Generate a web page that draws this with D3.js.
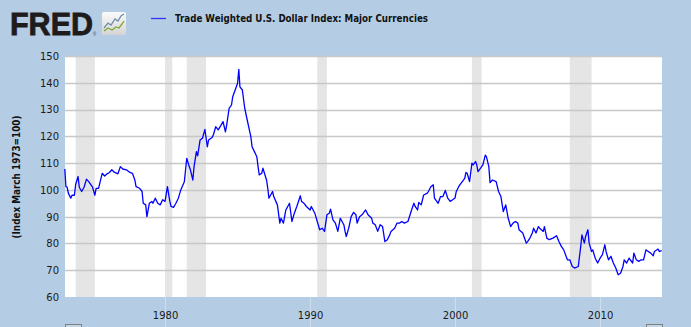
<!DOCTYPE html>
<html><head><meta charset="utf-8">
<script src="https://cdn.jsdelivr.net/npm/d3@7"></script>
<style>html,body{margin:0;padding:0;background:#b4cde4;}svg{display:block;}</style>
</head><body>
<svg id="chart" width="691" height="327"></svg>
<script>
const seriesName = "Trade Weighted U.S. Dollar Index: Major Currencies";
const yAxisTitle = "(Index March 1973=100)";
const yTicks = [60, 70, 80, 90, 100, 110, 120, 130, 140, 150];
const xTickYears = [1980, 1990, 2000, 2010];
const recessionStarts = ["1973-11", "1980-01", "1981-07", "1990-07", "2001-03", "2007-12"];
const recessionEnds   = ["1975-03", "1980-07", "1982-11", "1991-03", "2001-11", "2009-06"];
const dates = [
"1973-02","1973-03","1973-04","1973-05","1973-07","1973-08","1973-10","1973-11",
"1974-01","1974-02","1974-04","1974-06","1974-08","1974-10",
"1975-01","1975-03","1975-04","1975-06","1975-08","1975-09","1975-11",
"1976-01","1976-03","1976-05","1976-07","1976-10","1976-12",
"1977-02","1977-05","1977-08","1977-10","1977-12",
"1978-01","1978-04","1978-06","1978-07","1978-09","1978-10","1978-12",
"1979-02","1979-03","1979-05","1979-07","1979-09","1979-11",
"1980-01","1980-03","1980-05","1980-06","1980-08","1980-10","1980-12",
"1981-02","1981-05","1981-07","1981-09","1981-10","1981-12",
"1982-01","1982-03","1982-04","1982-06","1982-08","1982-10","1982-12",
"1983-01","1983-04","1983-05","1983-07","1983-09","1983-11",
"1984-01","1984-03","1984-04","1984-06","1984-08","1984-09","1984-11",
"1985-01","1985-02","1985-03","1985-05","1985-07","1985-09","1985-12",
"1986-01","1986-03","1986-05","1986-06","1986-07","1986-09","1986-10",
"1987-01","1987-02","1987-03","1987-06","1987-07","1987-10","1987-12",
"1988-01","1988-03","1988-05","1988-08","1988-10","1988-12",
"1989-02","1989-05","1989-06","1989-08","1989-10",
"1990-01","1990-02","1990-05","1990-07","1990-09","1990-11",
"1991-01","1991-03","1991-05","1991-06","1991-08","1991-10","1991-12",
"1992-02","1992-05","1992-06","1992-07","1992-09","1992-11",
"1993-01","1993-03","1993-04","1993-06","1993-08","1993-11",
"1994-01","1994-04","1994-05","1994-07","1994-09","1994-11",
"1995-01","1995-03","1995-05","1995-07","1995-08","1995-11",
"1996-01","1996-03","1996-05","1996-07","1996-10",
"1997-01","1997-03","1997-04","1997-06","1997-07","1997-09","1997-11",
"1998-02","1998-03","1998-05","1998-07","1998-08","1998-11",
"1999-01","1999-03","1999-05","1999-07","1999-09","1999-11",
"2000-01","2000-02","2000-04","2000-05","2000-07","2000-09","2000-10","2000-11",
"2001-01","2001-03","2001-04","2001-06","2001-07","2001-08","2001-10","2001-12",
"2002-02","2002-03","2002-05","2002-06","2002-08","2002-11",
"2003-01","2003-03","2003-05","2003-07","2003-09","2003-11",
"2004-01","2004-03","2004-05","2004-06","2004-09","2004-12",
"2005-01","2005-03","2005-05","2005-06","2005-08","2005-10","2005-11",
"2006-02","2006-03","2006-05","2006-07","2006-10",
"2007-01","2007-03","2007-05","2007-07","2007-10","2007-12",
"2008-02","2008-04","2008-07","2008-08","2008-09","2008-10","2008-12",
"2009-01","2009-03","2009-04","2009-06","2009-07","2009-09","2009-11",
"2010-01","2010-03","2010-05","2010-06","2010-08","2010-10","2010-12",
"2011-02","2011-04","2011-06","2011-08","2011-09","2011-11",
"2012-01","2012-04","2012-05","2012-07","2012-09","2012-11",
"2013-01","2013-03","2013-05","2013-07","2013-09","2013-10",
"2014-01","2014-02","2014-04"
];
const values = [
107.8,101.2,101,98.8,96.9,98,98,102,
105,101,99.4,101,104,103,
101,98,100.6,100.6,104.3,106.2,105.2,
106,106.5,107.5,106.6,106,108.7,
107.8,107.5,106.5,106.2,103.7,
101.2,100.6,99.4,95,94.4,90,95,
95.7,95,96.9,95,94.4,96.3,
95.7,101.2,95.7,93.8,93.5,95,96.9,
100,103,111.8,108.7,107.5,103.7,
108.7,114.3,112.7,118.6,119.3,122.6,116.1,
118.6,119.6,120.5,123.6,122.4,123.9,
125.5,121.7,124.2,130.4,131.7,134.8,137.3,
139.8,145,138.5,137.3,130.4,126.1,119.9,
116.1,114.3,112.4,108.7,105.6,106.2,108.1,
103.7,100.6,96.9,99.4,97.5,94.4,87.6,
89.4,87.6,92.5,95,88.2,91.3,
93.8,97.8,95.7,95,93.8,
92.5,93.8,91.3,88.2,85.1,85.7,
84.5,90.7,91.3,92.8,88.8,87.6,84.5,
89.4,87,84.5,82.6,85.7,90,
91.6,90.7,87.6,90,90.7,92.5,
90.7,89.4,87.6,87,84.5,87,
86.3,80.7,81.4,83.2,84.5,85.7,
87.6,87.6,88.2,87.6,88.2,
92.5,95,93.8,92.5,95.3,94.4,98.1,
98.8,99.4,101.2,101.9,96.9,95,
97.5,97.5,99.8,96.9,95.7,96.3,
97,99.4,101.2,101.9,103.1,104.3,106.5,106.2,
103.1,110,109.3,110.6,109.3,106.8,108,109.3,
113,112.4,108.7,102.7,103.7,103.1,
99.4,97.5,91.9,94.4,89.4,86.3,
87.6,88.2,87.6,85.1,83.9,80.1,
80.7,82,83.9,85.7,83.9,86.3,85.7,
84.5,86.3,82,81.4,82,
82.9,80.7,78.9,77.6,73.9,73.9,
71.4,70.8,71.4,75.2,78.9,83.2,80.1,
82.6,85.1,80.1,77,77.6,74.5,72.7,
74.5,75.8,79.5,77,73.9,75.2,72.7,
70.8,68.3,68.9,71.4,73.9,72.7,
74.5,72.7,76.4,73.9,73.3,73.9,
73.9,77.6,77,76.4,75.4,77,
77.9,77,77.3
];

(function () {
const parse = d3.timeParse("%Y-%m");
const data = dates.map((d, i) => ({date: parse(d), value: values[i]}));

const svg = d3.select("#chart");
const W = 691, H = 327;
const pL = 65, pR = 662, pT = 56, pB = 297;

const x = d3.scaleTime()
  .domain([new Date(1973, 1, 6), new Date(2014, 3, 10)])
  .range([pL, pR]);
const y = d3.scaleLinear().domain([60, 150]).range([pB, pT]);

svg.append("rect").attr("width", W).attr("height", H).attr("fill", "#b4cde4");

svg.append("rect").attr("x", pL).attr("y", pT)
  .attr("width", pR - pL).attr("height", pB - pT).attr("fill", "#ffffff");

const recG = svg.append("g");
recessionStarts.forEach((s, i) => {
  const x0 = x(parse(s));
  const x1 = x(parse(recessionEnds[i]));
  recG.append("rect").attr("x", x0).attr("y", pT)
    .attr("width", x1 - x0).attr("height", pB - pT).attr("fill", "#e5e5e5");
});

svg.append("g").selectAll("line").data(yTicks.filter(t => t > 60)).join("line")
  .attr("x1", pL).attr("x2", pR)
  .attr("y1", d => Math.round(y(d)) + 0.5).attr("y2", d => Math.round(y(d)) + 0.5)
  .attr("stroke", "#c8c8c8").attr("stroke-width", 1.3);

svg.append("g").selectAll("line").data(xTickYears).join("line")
  .attr("x1", d => Math.round(x(new Date(d, 0, 1))) + 0.5)
  .attr("x2", d => Math.round(x(new Date(d, 0, 1))) + 0.5)
  .attr("y1", pB).attr("y2", H)
  .attr("stroke", "#ffffff").attr("stroke-opacity", 0.35);

const yAxis = d3.axisLeft(y).tickValues(yTicks).tickSize(0).tickPadding(6);
const yg = svg.append("g").attr("transform", `translate(${pL},0)`).call(yAxis);
yg.select(".domain").remove();
yg.selectAll("text").attr("font-family", "DejaVu Sans, Verdana, sans-serif")
  .attr("font-size", 10).attr("fill", "#1a1a1a").attr("dy", "0.34em");

const xAxis = d3.axisBottom(x).tickValues(xTickYears.map(v => new Date(v, 0, 1)))
  .tickFormat(d3.timeFormat("%Y")).tickSize(0).tickPadding(0);
const xg = svg.append("g").attr("transform", `translate(0,${pB})`).call(xAxis);
xg.select(".domain").remove();
xg.selectAll("text").attr("font-family", "DejaVu Sans, Verdana, sans-serif")
  .attr("font-size", 10).attr("fill", "#1a1a1a").attr("y", 22).attr("dy", 0);

svg.append("text")
  .attr("transform", "translate(20,177) rotate(-90)")
  .attr("text-anchor", "middle")
  .attr("font-family", "DejaVu Sans, Verdana, sans-serif")
  .attr("font-weight", "bold").attr("font-size", 10.5)
  .attr("fill", "#111")
  .attr("textLength", 123).attr("lengthAdjust", "spacingAndGlyphs")
  .text(yAxisTitle);

const line = d3.line().x(d => x(d.date)).y(d => y(d.value));
svg.append("path").datum(data).attr("d", line)
  .attr("fill", "none").attr("stroke", "#0000ff").attr("stroke-width", 1.3)
  .attr("stroke-linejoin", "round");

svg.append("line").attr("x1", 151).attr("x2", 166).attr("y1", 18.5).attr("y2", 18.5)
  .attr("stroke", "#3333ff").attr("stroke-width", 1.3);
svg.append("text").attr("x", 175).attr("y", 22)
  .attr("font-family", "DejaVu Sans, Verdana, sans-serif")
  .attr("font-weight", "bold").attr("font-size", 10).attr("fill", "#111")
  .attr("textLength", 253).attr("lengthAdjust", "spacingAndGlyphs")
  .text(seriesName);

svg.append("text").attr("x", 10).attr("y", 35)
  .attr("font-family", "Liberation Sans, Arial, sans-serif")
  .attr("font-weight", "bold").attr("font-size", 30.5).attr("fill", "#1e1b1c")
  .attr("stroke", "#1e1b1c").attr("stroke-width", 0.8)
  .attr("textLength", 83).attr("lengthAdjust", "spacingAndGlyphs")
  .text("FRED");
svg.append("text").attr("x", 93).attr("y", 35.5)
  .attr("font-family", "Liberation Sans, Arial, sans-serif")
  .attr("font-size", 4.5).attr("fill", "#444").text("®");
const defs = svg.append("defs");
const grad = defs.append("linearGradient").attr("id", "icg").attr("x1", 0).attr("y1", 0).attr("x2", 0).attr("y2", 1);
grad.append("stop").attr("offset", "0%").attr("stop-color", "#fbfbfb");
grad.append("stop").attr("offset", "100%").attr("stop-color", "#d4d4d4");
svg.append("rect").attr("x", 102).attr("y", 12).attr("width", 24).attr("height", 23)
  .attr("rx", 2).attr("fill", "url(#icg)");
svg.append("polyline")
  .attr("points", "104,28 108,23 111,25 115,19 118,21 121,16 124,14")
  .attr("fill", "none").attr("stroke", "#6d8fa8").attr("stroke-width", 1.3);
svg.append("polyline")
  .attr("points", "104,31 108,28 112,30 116,27 119,28 122,24 124,21")
  .attr("fill", "none").attr("stroke", "#7fa83a").attr("stroke-width", 1.3);

[[65, 81], [646, 662]].forEach(([a, b]) => {
  svg.append("rect").attr("x", a + 0.5).attr("y", 324.5).attr("width", b - a).attr("height", 6)
    .attr("fill", "#c3d5e6").attr("stroke", "#7f7f7f");
});
})();
</script>
</body></html>
